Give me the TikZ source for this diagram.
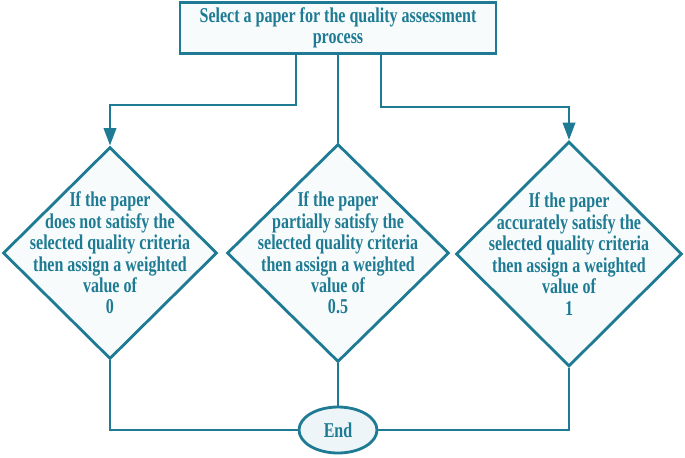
\documentclass[tikz,border=0pt]{standalone}
\usepackage{fontspec}
\setmainfont[FakeStretch=0.76]{Liberation Serif}
\usetikzlibrary{shapes.geometric,arrows.meta}
\definecolor{teal}{HTML}{1E7B93}
\definecolor{boxfill}{HTML}{F7FBFC}
\definecolor{endfill}{HTML}{EDF5F8}
\tikzset{
    flow/.style = {draw = teal, line width = 1.6pt},
    arr/.style = {flow, -{Triangle[width = 7pt, length = 10pt]}},
    dia/.style = {flow, diamond, fill = boxfill, inner sep = 0pt},
    txt/.style = {text = teal, font = \fontsize{12}{12.2}\selectfont\bfseries, align = center}
}
\begin{document}
\begin{tikzpicture}[x = 0.02cm, y = -0.02cm]
            \useasboundingbox (0,0) rectangle (685,457);
            \node[flow, txt, fill = boxfill, minimum width = 6.32cm, minimum height = 1.02cm, inner sep = 1pt] (sel) at (338,28) {Select a paper for the quality assessment\\process};
            \node[dia, minimum width = 4.28cm, minimum height = 4.24cm] (d0) at (110,253) {};
            \node[dia, minimum width = 4.44cm, minimum height = 4.36cm] (d05) at (338,253) {};
            \node[dia, minimum width = 4.52cm, minimum height = 4.5cm] (d1) at (569,254) {};
            \node[txt] (t0) at (d0) {If the paper\\does not satisfy the\\selected quality criteria\\then assign a weighted\\value of\\0};
            \node[txt] (t05) at (d05) {If the paper\\partially satisfy the\\selected quality criteria\\then assign a weighted\\value of\\0.5};
            \node[txt] (t1) at (d1) {If the paper\\accurately satisfy the\\selected quality criteria\\then assign a weighted\\value of\\1};
            \node[flow, txt, ellipse, fill = endfill, minimum width = 1.56cm, minimum height = 0.92cm, inner sep = 0pt] (endn) at (338,430) {End};
            \coordinate (c0) at (296,105);
            \coordinate (c1) at (381,107);
            \draw[arr] (sel.south -| c0) -- (c0) -| (d0.north);
            \draw[flow] (sel.south) -- (d05.north);
            \draw[arr] (sel.south -| c1) -- (c1) -| (d1.north);
            \draw[flow] (d0.south) |- (endn.west);
            \draw[flow] (d05.south) -- (endn.north);
            \draw[flow] (d1.south) |- (endn.east);
        \end{tikzpicture}
\end{document}
